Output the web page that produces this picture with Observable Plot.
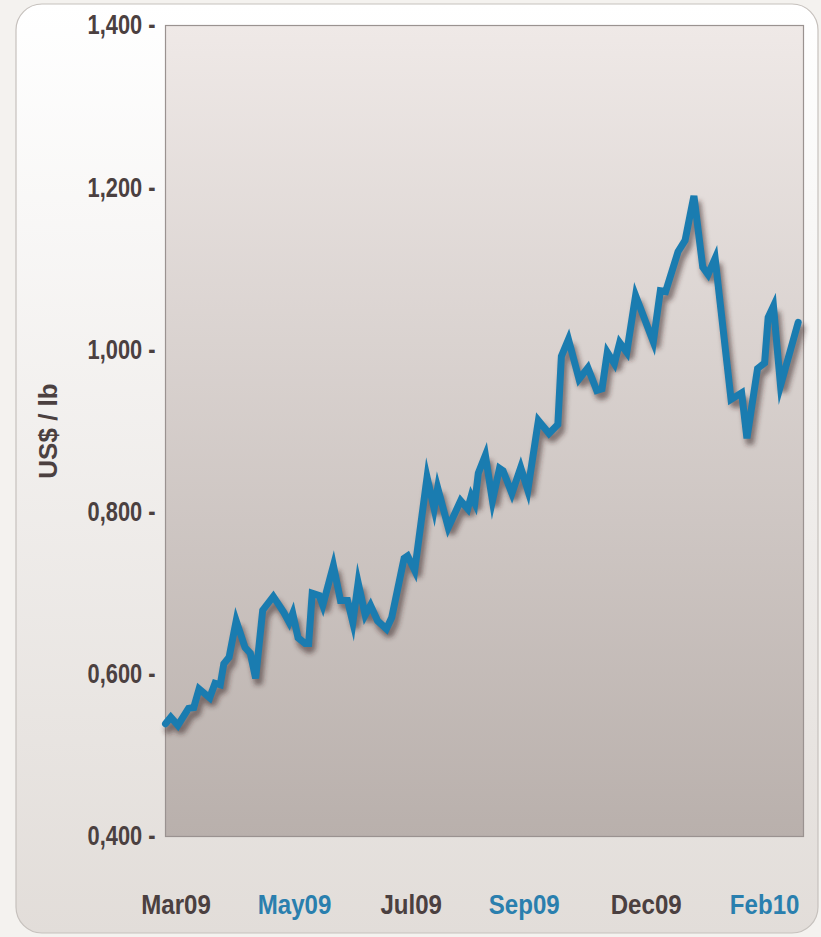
<!DOCTYPE html>
<html><head><meta charset="utf-8">
<script src="https://cdn.jsdelivr.net/npm/d3@7"></script>
<script src="https://cdn.jsdelivr.net/npm/@observablehq/plot@0.6"></script>
<style>
html,body{margin:0;padding:0;background:#f4f2ef;}
#chart svg{display:block;}
</style></head><body><div id="chart"></div>
<script>
// Price series (US$ / lb)
const dates = [
  "2009-03-02","2009-03-05","2009-03-09","2009-03-15","2009-03-18","2009-03-21","2009-03-27","2009-03-30",
  "2009-04-02","2009-04-04","2009-04-07","2009-04-11","2009-04-16","2009-04-19","2009-04-22","2009-04-26",
  "2009-05-02","2009-05-08","2009-05-11","2009-05-13","2009-05-16","2009-05-20","2009-05-22","2009-05-24",
  "2009-05-28","2009-05-30","2009-06-05","2009-06-09","2009-06-13","2009-06-16","2009-06-19","2009-06-23",
  "2009-06-26","2009-06-30","2009-07-05","2009-07-08","2009-07-15","2009-07-17","2009-07-21","2009-07-28",
  "2009-08-01","2009-08-03","2009-08-09","2009-08-16","2009-08-20","2009-08-22","2009-08-24","2009-08-26",
  "2009-08-30","2009-09-03","2009-09-07","2009-09-09","2009-09-14","2009-09-19","2009-09-23","2009-09-29",
  "2009-10-05","2009-10-10","2009-10-12","2009-10-16","2009-10-22","2009-10-27","2009-11-01","2009-11-04",
  "2009-11-07","2009-11-11","2009-11-14","2009-11-18","2009-11-23","2009-12-03","2009-12-07","2009-12-10",
  "2009-12-17","2009-12-21","2009-12-26","2009-12-31","2010-01-03","2010-01-07","2010-01-16","2010-01-22",
  "2010-01-25","2010-01-31","2010-02-04","2010-02-06","2010-02-09","2010-02-13","2010-02-23"
];
const prices = [
  0.539,0.547,0.537,0.558,0.559,0.582,0.571,0.589,
  0.587,0.613,0.621,0.666,0.633,0.626,0.595,0.679,
  0.696,0.676,0.664,0.675,0.645,0.638,0.638,0.700,
  0.697,0.685,0.734,0.691,0.691,0.664,0.713,0.673,
  0.685,0.666,0.656,0.670,0.743,0.746,0.728,0.843,
  0.804,0.830,0.781,0.814,0.804,0.820,0.811,0.848,
  0.870,0.814,0.854,0.851,0.823,0.855,0.827,0.913,
  0.897,0.908,0.992,1.013,0.964,0.978,0.950,0.952,
  0.997,0.983,1.009,0.997,1.067,1.010,1.073,1.072,
  1.121,1.135,1.190,1.102,1.093,1.113,0.939,0.947,
  0.891,0.977,0.984,1.040,1.054,0.956,1.034
];
const tickDates = ["2009-03-08","2009-05-14","2009-07-19","2009-09-21","2009-11-29","2010-02-04"];
const tickLabels = ["Mar09","May09","Jul09","Sep09","Dec09","Feb10"];
const yTicks = [0.4, 0.6, 0.8, 1.0, 1.2, 1.4];
const yLabel = "US$ / lb";

const data = dates.map((d, i) => ({date: new Date(d), price: prices[i]}));
const xTicks = tickLabels.map((t, i) => ({date: new Date(tickDates[i]), label: t}));
const fmt = v => v.toFixed(3).replace(".", ",");
const FONT = "'Liberation Sans','Arimo',Arial,sans-serif";
const DARK = "#4b4040", BLUE = "#2a7fae";

const chart = Plot.plot({
  width: 821, height: 937,
  marginLeft: 165, marginRight: 18, marginTop: 25, marginBottom: 101,
  style: {background: "transparent", fontFamily: FONT, overflow: "visible"},
  color: {type: "identity"},
  x: {type: "utc", domain: [new Date("2009-03-02"), new Date("2010-02-26")], axis: null},
  y: {domain: [0.4, 1.4], axis: null},
  marks: [
    Plot.frame({fill: "#d8d0cd", stroke: "#9a9290", strokeWidth: 1.2}),
    Plot.line(data, {x: "date", y: "price", stroke: "#3a2626", strokeOpacity: 0.55, strokeWidth: 8, dx: 3, dy: 6, strokeLinejoin: "miter"}),
    Plot.line(data, {x: "date", y: "price", stroke: "#1a7cb0", strokeWidth: 7, strokeLinejoin: "miter", strokeMiterlimit: 6}),
    Plot.axisY(yTicks, {tickSize: 0, tickPadding: 10, tickFormat: d => fmt(d) + " -", fontSize: 28, fontWeight: "bold", fill: DARK, label: null}),
    Plot.text(xTicks, {x: "date", frameAnchor: "bottom", lineAnchor: "middle", dy: 69, text: "label", fontSize: 28, fontWeight: "bold",
      fill: (d, i) => (i % 2 ? BLUE : DARK)}),
    Plot.text([yLabel], {frameAnchor: "left", textAnchor: "middle", dx: -117, rotate: -90, text: d => d, fontSize: 26, fontWeight: "bold", fill: DARK})
  ]
});
document.getElementById("chart").appendChild(chart);

// decorations: panel background, plot gradient, line shadow blur
const svg = d3.select(chart);
const defs = svg.insert("defs", ":first-child");
const pg = defs.append("linearGradient").attr("id", "panelGrad").attr("x1", 0).attr("y1", 0).attr("x2", 0).attr("y2", 1);
pg.append("stop").attr("offset", "0%").attr("stop-color", "#ffffff");
pg.append("stop").attr("offset", "100%").attr("stop-color", "#e2ddd9");
const fg = defs.append("linearGradient").attr("id", "plotGrad").attr("x1", 0).attr("y1", 0).attr("x2", 0).attr("y2", 1);
fg.append("stop").attr("offset", "0%").attr("stop-color", "#efe9e7");
fg.append("stop").attr("offset", "100%").attr("stop-color", "#b9b0ac");
defs.append("filter").attr("id", "blurShadow").attr("x", "-10%").attr("y", "-10%").attr("width", "120%").attr("height", "120%")
  .append("feGaussianBlur").attr("stdDeviation", 2.5);
svg.insert("rect", "defs + *").attr("x", 16).attr("y", 4).attr("width", 802).attr("height", 929)
  .attr("rx", 26).attr("fill", "url(#panelGrad)").attr("stroke", "#c6c1bd").attr("stroke-width", 1.2);
svg.select('[aria-label="frame"]').attr("fill", "url(#plotGrad)");
const lines = svg.selectAll('[aria-label="line"]').nodes();
if (lines.length) d3.select(lines[0]).attr("filter", "url(#blurShadow)");

// condensed look: squeeze text horizontally around its anchor (x only)
function squeeze(sel, s) {
  sel.each(function () {
    const t = d3.select(this);
    const T = t.attr("transform") || "";
    let x = parseFloat(t.attr("x"));
    if (!isFinite(x) || /em/.test(t.attr("x") || "")) x = 0;
    t.attr("transform", `${T} translate(${x},0) scale(${s},1) translate(${-x},0)`);
  });
}
squeeze(svg.selectAll('[aria-label="y-axis tick label"] text'), 0.78);
const textGroups = svg.selectAll('[aria-label="text"]').nodes();
if (textGroups.length) squeeze(d3.select(textGroups[0]).selectAll("text"), 0.86);
</script>
</body></html>
